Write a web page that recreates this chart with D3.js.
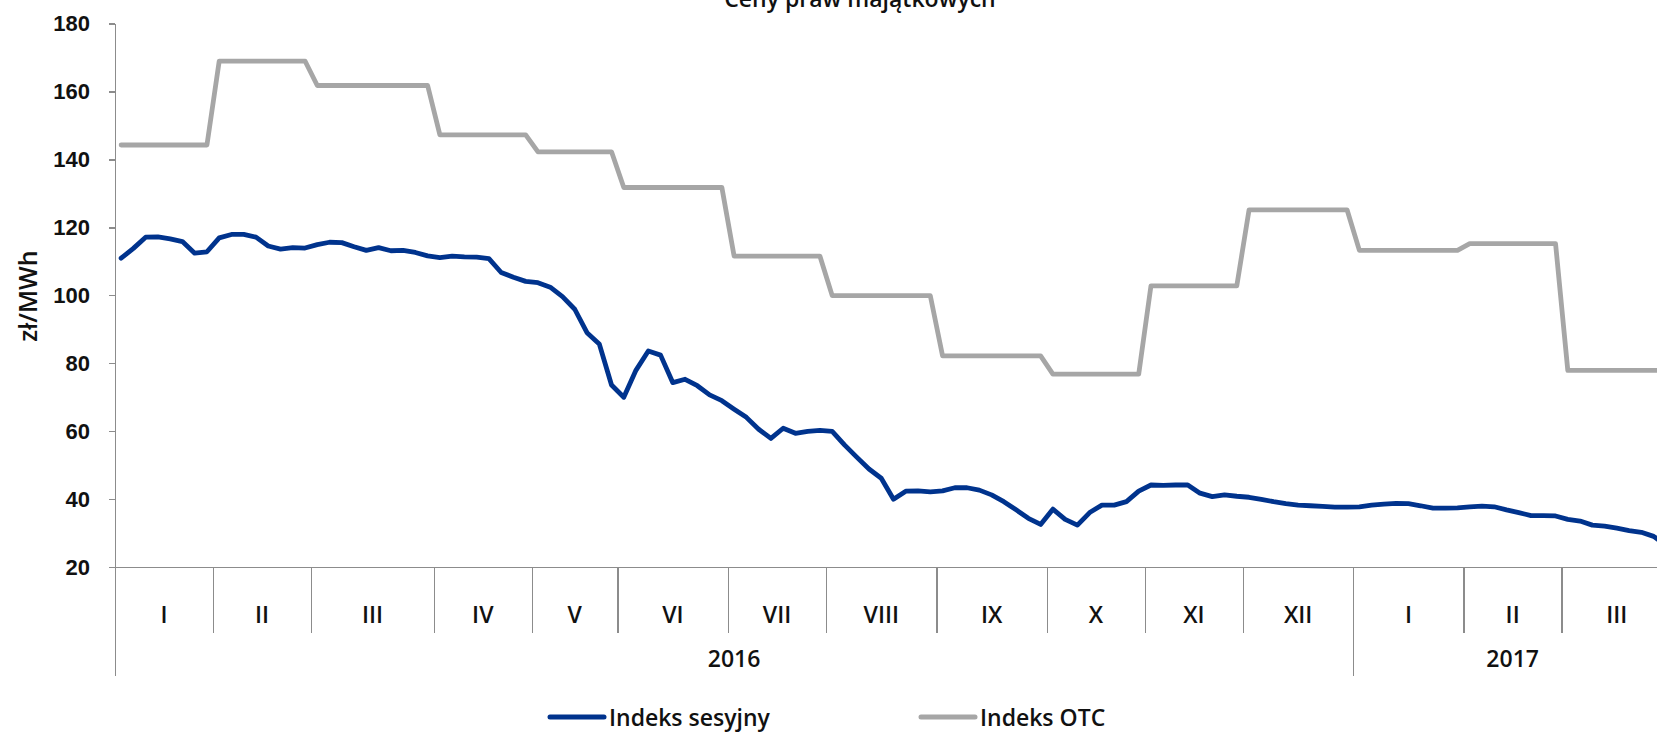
<!DOCTYPE html>
<html>
<head>
<meta charset="utf-8">
<script src="https://cdn.jsdelivr.net/npm/d3@7"></script>
<style>
  body { margin: 0; background: #fff; }
  svg { display: block; font-family: "Open Sans", "DejaVu Sans", sans-serif; }
  .axis path, .axis line { stroke: #8c8c8c; stroke-width: 1.4; shape-rendering: crispEdges; }
  .axis text { fill: #111; font-size: 22px; font-weight: 600; }
</style>
</head>
<body>
<div id="chart"></div>
<script>
'use strict';

// dane: miesiące (liczba notowań w każdym miesiącu) i lata
var months = ['I', 'II', 'III', 'IV', 'V', 'VI', 'VII', 'VIII', 'IX', 'X', 'XI', 'XII', 'I', 'II', 'III'];
var monthPoints = [8, 8, 10, 8, 7, 9, 8, 9, 9, 8, 8, 9, 9, 8, 9];
var years = ['2016', '2017'];
var yearMonths = [12, 3];
var yTicks = [20, 40, 60, 80, 100, 120, 140, 160, 180];

var seriesNames = ['Indeks sesyjny', 'Indeks OTC'];

var sesyjny = [
  110.9, 113.8, 117.1, 117.2, 116.6, 115.8, 112.4, 112.8,
  116.9, 117.9, 117.9, 117.1, 114.5, 113.6, 114.0, 113.9,
  114.9, 115.6, 115.5, 114.3, 113.2, 114.0, 113.1, 113.2, 112.6, 111.6,
  111.1, 111.5, 111.3, 111.2, 110.8, 106.7, 105.3, 104.1,
  103.7, 102.4, 99.6, 95.9, 89.0, 85.7, 73.6,
  70.0, 78.0, 83.6, 82.4, 74.3, 75.3, 73.4, 70.7, 69.0,
  66.5, 64.1, 60.6, 57.9, 60.9, 59.4, 60.0, 60.3,
  60.0, 56.0, 52.4, 48.9, 46.2, 40.0, 42.4, 42.5, 42.2,
  42.5, 43.4, 43.4, 42.7, 41.3, 39.3, 36.9, 34.4, 32.6,
  37.1, 34.1, 32.4, 36.1, 38.3, 38.3, 39.3, 42.4,
  44.2, 44.1, 44.2, 44.2, 41.8, 40.8, 41.3, 40.9,
  40.6, 40.0, 39.3, 38.7, 38.3, 38.1, 37.9, 37.7, 37.7,
  37.8, 38.3, 38.6, 38.8, 38.7, 38.1, 37.4, 37.4, 37.5,
  37.8, 38.0, 37.8, 36.9, 36.1, 35.2, 35.2, 35.1,
  34.1, 33.6, 32.4, 32.1, 31.5, 30.8, 30.3, 29.1, 26.5
];

var otc = [
  144.2, 144.2, 144.2, 144.2, 144.2, 144.2, 144.2, 144.2,
  168.9, 168.9, 168.9, 168.9, 168.9, 168.9, 168.9, 168.9,
  161.7, 161.7, 161.7, 161.7, 161.7, 161.7, 161.7, 161.7, 161.7, 161.7,
  147.2, 147.2, 147.2, 147.2, 147.2, 147.2, 147.2, 147.2,
  142.2, 142.2, 142.2, 142.2, 142.2, 142.2, 142.2,
  131.7, 131.7, 131.7, 131.7, 131.7, 131.7, 131.7, 131.7, 131.7,
  111.5, 111.5, 111.5, 111.5, 111.5, 111.5, 111.5, 111.5,
  99.9, 99.9, 99.9, 99.9, 99.9, 99.9, 99.9, 99.9, 99.9,
  82.2, 82.2, 82.2, 82.2, 82.2, 82.2, 82.2, 82.2, 82.2,
  76.8, 76.8, 76.8, 76.8, 76.8, 76.8, 76.8, 76.8,
  102.8, 102.8, 102.8, 102.8, 102.8, 102.8, 102.8, 102.8,
  125.1, 125.1, 125.1, 125.1, 125.1, 125.1, 125.1, 125.1, 125.1,
  113.2, 113.2, 113.2, 113.2, 113.2, 113.2, 113.2, 113.2, 113.2,
  115.2, 115.2, 115.2, 115.2, 115.2, 115.2, 115.2, 115.2,
  77.9, 77.9, 77.9, 77.9, 77.9, 77.9, 77.9, 77.9, 77.9
];

var colors = ['#00338d', '#a6a6a6'];

var chart = {};
chart.w = 1657;
chart.h = 733;
chart.left = 115;
chart.top = 23.3;
chart.bottom = 567.3;
chart.step = 12.26;   // szerokość jednej kategorii

chart.run = function() {
  var n = sesyjny.length;

  var svg = d3.select('#chart').append('svg')
    .attr('width', chart.w)
    .attr('height', chart.h);

  var x = d3.scaleLinear().domain([0, n]).range([chart.left, chart.left + n * chart.step]);
  var y = d3.scaleLinear().domain([20, 180]).range([chart.bottom, chart.top]);

  // granice miesięcy i lat (indeksy kategorii)
  var monthBounds = [0];
  monthPoints.forEach(function(c, i) { monthBounds.push(monthBounds[i] + c); });
  var yearBounds = [0];
  yearMonths.forEach(function(c, i) { yearBounds.push(yearBounds[i] + c); });

  // tytuł (ucięty u góry)
  svg.append('text')
    .attr('x', 860)
    .attr('y', 7)
    .attr('text-anchor', 'middle')
    .style('font-size', '23px')
    .style('font-weight', '600')
    .style('fill', '#111')
    .text('Ceny praw majątkowych');

  // oś Y
  svg.append('g')
    .attr('class', 'axis')
    .attr('transform', 'translate(' + chart.left + ',0)')
    .call(d3.axisLeft(y).tickValues(yTicks).tickSize(6).tickSizeOuter(0).tickPadding(19));

  svg.append('text')
    .attr('transform', 'translate(27,' + 296 + ') rotate(-90)')
    .attr('text-anchor', 'middle')
    .attr('dominant-baseline', 'central')
    .style('font-size', '25px')
    .style('font-weight', '600')
    .style('fill', '#111')
    .text('zł/MWh');

  // oś X: miesiące
  svg.append('g')
    .attr('class', 'axis x-month')
    .attr('transform', 'translate(0,' + chart.bottom + ')')
    .call(d3.axisBottom(x).tickValues(monthBounds).tickSize(66).tickSizeOuter(0).tickFormat(''));

  // oś X: lata (dłuższe kreski)
  svg.append('g')
    .attr('class', 'axis x-year')
    .attr('transform', 'translate(0,' + chart.bottom + ')')
    .call(d3.axisBottom(x).tickValues(yearBounds.map(function(b) { return monthBounds[b]; }))
      .tickSize(109).tickSizeOuter(0).tickFormat(''))
    .select('.domain').remove();

  svg.selectAll('.month-label')
    .data(months)
    .enter()
    .append('text')
    .attr('class', 'month-label')
    .attr('x', function(d, i) { return x((monthBounds[i] + monthBounds[i + 1]) / 2); })
    .attr('y', chart.bottom + 56)
    .attr('text-anchor', 'middle')
    .style('font-size', '23px')
    .style('font-weight', '600')
    .style('fill', '#111')
    .text(function(d) { return d; });

  svg.selectAll('.year-label')
    .data(years)
    .enter()
    .append('text')
    .attr('class', 'year-label')
    .attr('x', function(d, i) { return x((monthBounds[yearBounds[i]] + monthBounds[yearBounds[i + 1]]) / 2); })
    .attr('y', chart.bottom + 99.5)
    .attr('text-anchor', 'middle')
    .style('font-size', '23px')
    .style('font-weight', '600')
    .style('fill', '#111')
    .text(function(d) { return d; });

  // linie
  var line = d3.line()
    .x(function(d, i) { return x(i + 0.5); })
    .y(function(d) { return y(d); });

  [otc, sesyjny].forEach(function(data, k) {
    svg.append('path')
      .datum(data)
      .attr('fill', 'none')
      .attr('stroke', colors[1 - k])
      .attr('stroke-width', 4.8)
      .attr('stroke-linejoin', 'round')
      .attr('stroke-linecap', 'round')
      .attr('d', line);
  });

  // legenda
  var legendX = [550, 921];
  var legendY = 717;
  seriesNames.forEach(function(name, i) {
    svg.append('line')
      .attr('x1', legendX[i])
      .attr('x2', legendX[i] + 54)
      .attr('y1', legendY)
      .attr('y2', legendY)
      .attr('stroke', colors[i])
      .attr('stroke-width', 5)
      .attr('stroke-linecap', 'round');
    svg.append('text')
      .attr('x', legendX[i] + 59)
      .attr('y', legendY)
      .attr('dominant-baseline', 'central')
      .style('font-size', '23px')
      .style('font-weight', '600')
      .style('fill', '#111')
      .text(name);
  });
};

chart.run();
</script>
</body>
</html>
